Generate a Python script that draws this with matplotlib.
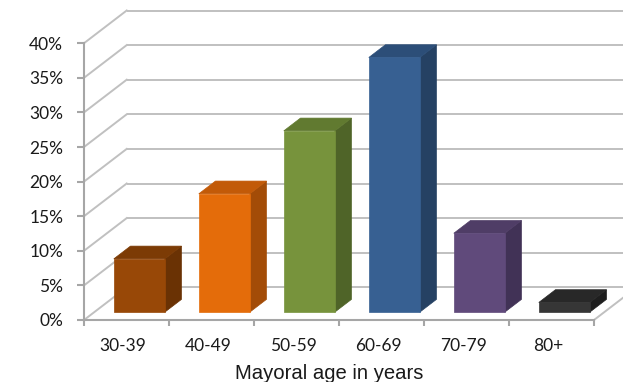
import matplotlib
matplotlib.use("Agg")
import matplotlib.pyplot as plt
from matplotlib.patches import Polygon

# Share of mayors by age group (percent)
categories = ["30-39", "40-49", "50-59", "60-69", "70-79", "80+"]
shares = [7.7, 17.1, 26.2, 36.8, 11.4, 1.4]
y_ticks = [0, 5, 10, 15, 20, 25, 30, 35, 40]
y_tick_labels = [f"{v}%" for v in y_ticks]
x_label = "Mayoral age in years"

# (front, top, side) shades per column
bar_colors = [
    ("#984807", "#7c3b05", "#6a3204"),
    ("#E46C0A", "#c25a08", "#a34c07"),
    ("#77933C", "#617a30", "#4f6428"),
    ("#376092", "#2c4e78", "#254163"),
    ("#604A7B", "#4f3d66", "#413256"),
    ("#363636", "#282828", "#1e1e1e"),
]

W, H, DPI = 623, 382, 100
PX_X = 85.0          # pixels per category
PX_Y = 6.92          # pixels per percent
DX = 42.7 / PX_X     # oblique depth offset in category units
DY = 32.7 / PX_Y     # oblique depth offset in percent units


def proj(x, y, d):
    return (x + d * DX, y + d * DY)


fig = plt.figure(figsize=(W / DPI, H / DPI), dpi=DPI)
left, bottom = 84, 62
ax = fig.add_axes([left / W, bottom / H, (W - left) / W, (H - bottom) / H])
ax.set_xlim(0, (W - left) / PX_X)
ax.set_ylim(0, (H - bottom) / PX_Y)
ax.patch.set_alpha(0)

grid_c = "#c0c0c0"
axis_c = "#a6a6a6"
n = len(categories)

# Back wall gridlines and left wall diagonals
for v in y_ticks:
    bx, by = proj(0, v, 1)
    ex, ey = proj(n + 2, v, 1)
    ax.plot([bx, ex], [by, ey], color=grid_c, lw=1.4, zorder=1, solid_capstyle="butt")
    ax.plot([0, bx], [v, by], color=grid_c, lw=1.4, zorder=1)

# Right edge of the floor
fx, fy = proj(n, 0, 1)
ax.plot([n, fx], [0, fy], color=grid_c, lw=1.4, zorder=1, clip_on=False)

# 3-D columns
x_off, width = 0.23, 0.6
d0, d1 = 0.24, 0.63
for i, (h, (cf, ct, cs)) in enumerate(zip(shares, bar_colors)):
    x0 = i + x_off
    x1 = x0 + width
    front = [proj(x0, 0, d0), proj(x1, 0, d0), proj(x1, h, d0), proj(x0, h, d0)]
    side = [proj(x1, 0, d0), proj(x1, 0, d1), proj(x1, h, d1), proj(x1, h, d0)]
    top = [proj(x0, h, d0), proj(x1, h, d0), proj(x1, h, d1), proj(x0, h, d1)]
    for pts, c in ((side, cs), (top, ct), (front, cf)):
        ax.add_patch(Polygon(pts, closed=True, facecolor=c, edgecolor=c,
                             lw=0.5, zorder=3))

# Axes lines and ticks
for s in ("top", "right"):
    ax.spines[s].set_visible(False)
ax.spines["left"].set_bounds(0, 40)
ax.spines["bottom"].set_bounds(0, n)
for s in ("left", "bottom"):
    ax.spines[s].set_color(axis_c)
    ax.spines[s].set_linewidth(1.5)
    ax.spines[s].set_zorder(4)

tick_font = dict(family="Lato", size=12.5, color="#1a1a1a")
ax.set_yticks(y_ticks)
ax.set_yticklabels(y_tick_labels, fontdict=tick_font)
ax.tick_params(axis="y", length=5, width=1.5, color=axis_c, pad=10)

ax.set_xticks(range(n + 1))
ax.set_xticklabels([])
ax.tick_params(axis="x", which="major", length=4, width=1.5, color=axis_c)
ax.set_xticks([i + 0.46 for i in range(n)], minor=True)
ax.set_xticklabels(categories, minor=True, fontdict=tick_font)
ax.tick_params(axis="x", which="minor", length=0, pad=13)

fig.text(329 / W, 1 - 379 / H, x_label, ha="center", va="baseline",
         family="Liberation Sans", size=14.6, color="#1a1a1a")

fig.savefig("out.png", dpi=DPI)
